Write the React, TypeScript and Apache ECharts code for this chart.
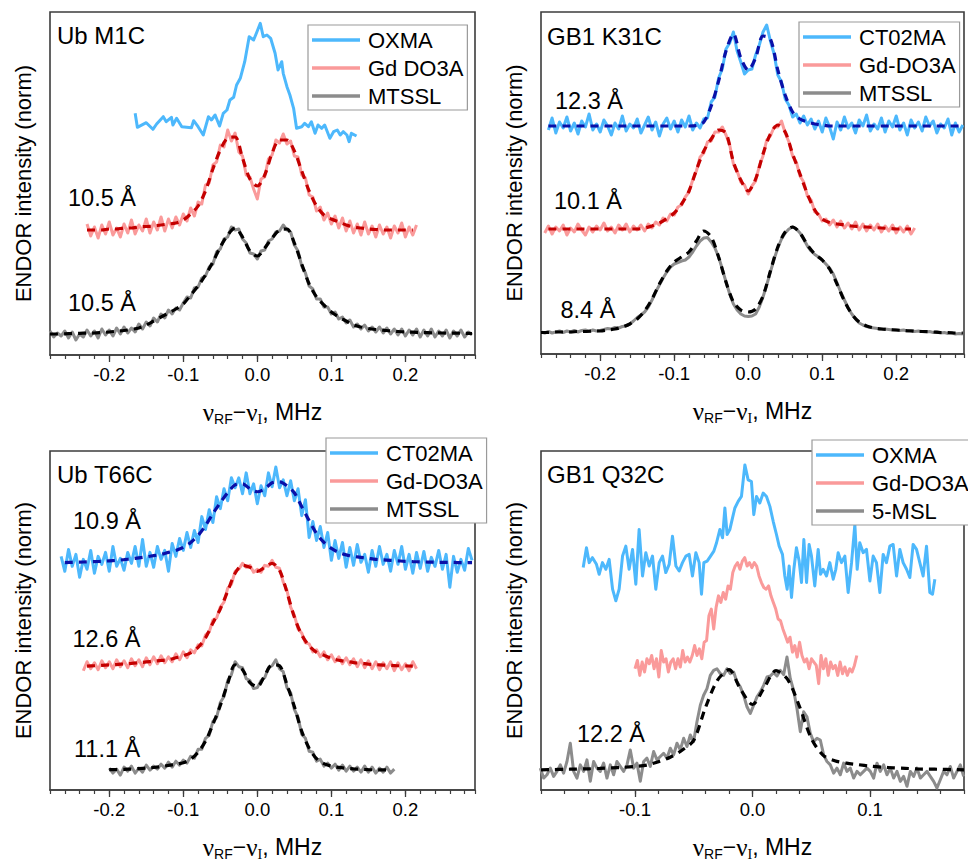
import React, { useEffect, useRef } from 'react';
import * as echarts from 'echarts';

// ---------------- Data (x in MHz, y = intensity in arbitrary units) ----------------
// Panel "Ub M1C"
const ubM1C_OXMA: [number, number][] = [[-0.165,241.7],[-0.162,227.7],[-0.150,232.3],[-0.141,225.7],[-0.136,231],[-0.127,238.3],[-0.123,233.3],[-0.116,237.7],[-0.114,230],[-0.109,236.7],[-0.102,228.3],[-0.089,227.3],[-0.086,234.3],[-0.080,228.3],[-0.073,220],[-0.066,238.3],[-0.062,235],[-0.057,240],[-0.051,229],[-0.046,241.7],[-0.041,245],[-0.037,255],[-0.032,257.7],[-0.028,270],[-0.023,276.7],[-0.017,293.3],[-0.011,318.3],[-0.005,315],[-0.001,322.3],[0.004,331.7],[0.008,318.3],[0.013,320],[0.018,316.7],[0.024,301.7],[0.028,285],[0.033,293.3],[0.035,281.7],[0.040,268.3],[0.044,260],[0.049,246.7],[0.053,226.7],[0.060,228.3],[0.064,231.7],[0.069,228.3],[0.073,233.3],[0.078,221.7],[0.082,230],[0.087,226.7],[0.091,230],[0.098,216.7],[0.103,223.3],[0.108,225],[0.112,220],[0.116,223.3],[0.121,220],[0.124,213.3],[0.127,221.7],[0.134,219]];
const ubM1C_GD_start = -0.23, ubM1C_GD_step = 0.005;
const ubM1C_GD = [131,119,128,117,130,121,133,120,127,118,131,122,135,121,130,124,136,122,133,125,138,124,136,127,138,130,141,134,147,139,153,151,170,172,190,193,210,208,225,214,222,203,199,180,178,166,156,176,178,196,200,215,212,221,211,214,199,198,180,177,160,158,144,148,135,142,131,139,127,137,124,134,122,131,120,133,121,129,118,130,121,128,117,129,122,132,118,128,120,130];
const ubM1C_GDfit_start = -0.23, ubM1C_GDfit_step = 0.01;
const ubM1C_GDfit = [125,125,125,126,126,127,127,128,128.5,129,130,131,132,135,141,149,164,186,205,217,218,197,176,169,180,202,215,215,204,184,164,149,140,136,133,130,128,127,126,125.5,125,125,125,125,125];
const ubM1C_MT_start = -0.28, ubM1C_MT_step = 0.005;
const ubM1C_MT = [24,18,22,19,24,17,23,15,21,18,25,19,24,17,26,20,25,19,27,21,28,22,27,23,31,26,33,29,37,33,41,37,45,41,47,45,52,58,57,67,68,77,79,88,91,103,106,116,118,128,125,126,116,112,102,101,96,104,105,114,116,123,124,130,125,123,110,104,89,82,69,66,56,56,48,48,41,43,36,38,32,35,28,31,26,30,24,28,23,28,22,27,21,26,20,26,19,25,20,26,18,25,19,26,18,24,19,25,17,24,19,25,18,23,20];
const ubM1C_MTfit_start = -0.28, ubM1C_MTfit_step = 0.01;
const ubM1C_MTfit = [21,21,21.2,21.5,21.7,21.9,22,22.5,23,23.8,24.5,25.6,27,30,34,38,42,46,51,60,69,80,93,108,120,127,118,104,99,107,117,125,126,112,91,71,58,50,43,38,34,30,28,26.5,25.5,24.8,24,23.5,23,22.8,22.5,22.3,22.1,22,21.9,21.8,21.6,21.5];

// Panel "GB1 K31C"
const gbK31C_CT_start = -0.27, gbK31C_CT_step = 0.005;
const gbK31C_CT = [224,236,221,232,226,237,223,231,220,233,227,240,224,230,222,234,228,219,231,225,238,223,230,226,235,221,229,237,224,232,218,230,236,225,233,222,234,227,238,224,231,226,235,236,252,257,276,285,305,311,322,303,292,280,284,285,299,309,322,329,313,300,279,272,255,249,237,240,231,238,229,235,225,233,222,236,227,215,232,224,237,226,231,221,234,228,239,223,230,225,236,222,233,227,238,224,231,219,234,226,232,223,237,228,233,221,230,226,235,219,231,222,229];
const gbK31C_CTfit_start = -0.27, gbK31C_CTfit_step = 0.01;
const gbK31C_CTfit = [228,228,228,228,228,228,228,228,228,228,228,228,228,228,228,228,228,228,228,228,228.5,232,248,273,303,320,296,284,296,318,315,284,259,242,235,232,230,229,228,228,228,228,228,228,228,228,228,228,228,228,228,228,228,228,228,228,228];
const gbK31C_GD_start = -0.275, gbK31C_GD_step = 0.005;
const gbK31C_GD = [121,128,120,127,123,129,119,126,122,130,124,119,127,122,128,124,131,123,127,121,129,124,130,122,128,124,129,123,130,126,132,129,136,133,140,139,147,149,157,162,174,183,197,201,212,213,222,222,227,219,209,190,183,172,169,160,168,173,188,198,214,218,227,227,233,221,212,198,192,178,172,158,154,142,140,133,135,129,134,127,133,126,131,125,132,124,130,123,129,124,130,122,128,123,129,121,127,122,128,120,126];
const gbK31C_GDfit_start = -0.27, gbK31C_GDfit_step = 0.01;
const gbK31C_GDfit = [125,125,125,125,125,125,125,125,125,125,125,125,125,126,128,131,135.5,141,150,163,184,203,215,224,221,192,174,163,175,200,220,229,222,200,180,160,144,135,131.5,130,129,128,127.5,127,126.5,126,125.5,125,125,125];
const gbK31C_MT_start = -0.28, gbK31C_MT_step = 0.005;
const gbK31C_MT = [22,21,22.5,21,22,23,21.5,23,22,23.5,22,23.5,24,22.5,24,23,23.5,24.5,25.5,25,26.5,26,27.5,28,30,33,36.5,39,42,47,54,62,69,76,82,87,90,91.5,93,94,97,102,108,113,116,116.5,112,106,97,85,72,60,50,44,40,38,37.5,38,40,47,57,69,82,95,106,115,121,125,127,125,121,115,108,103,99.5,97,94,90,86,80,71,62,54,46,40,35,31,29,27.5,26.5,26,25.5,25,25,24.5,24,24,23.5,24,23,23.5,22.5,23,22.5,22,22.5,21.5,22,21,21.5,20.5,21,20,20.5,20];
const gbK31C_MTfit_start = -0.28, gbK31C_MTfit_step = 0.01;
const gbK31C_MTfit = [21.5,21.5,22,22,22,22.5,22.5,23,23,24,25,27,30,35,43,55,70,83,92,97,102,113,123,117,97,72,52,44,42,45,58,83,107,122,127,121,109,100,94,85,70,53,40,32,28,26,25,24.5,24,23.5,23,22.5,22.5,22,21.5,21.5,21,21];

// Panel "Ub T66C"
const ubT66C_CT_start = -0.265, ubT66C_CT_step = 0.005;
const ubT66C_CT = [235,220,242,225,237,214,232,222,241,218,235,227,239,220,245,225,233,221,239,228,245,225,252,225,239,224,245,232,241,220,248,235,253,241,259,244,261,249,275,262,282,269,295,283,303,291,314,304,314,298,319,298,308,288,306,296,319,305,325,304,312,296,311,291,303,276,292,254,270,251,265,244,259,231,251,233,249,224,244,226,247,229,237,219,241,225,245,227,237,220,241,227,245,222,237,218,239,223,240,220,234,225,241,222,237,204,235,219,232,221,243,231];
const ubT66C_CTfit_start = -0.26, ubT66C_CTfit_step = 0.01;
const ubT66C_CTfit = [228.8,229,229.2,229.5,229.7,230,230.5,231,231.7,232.5,233.5,234.5,235.7,237,239,241,244,249,256,266,278,289,299,307,308,303,300,303,309,310,306,299,285,271,258,249,243,239,236.5,235,234,233,232,231.5,231,230.5,230,229.7,229.5,229.3,229.2,229,229,228.8,228.7,228.7];
const ubT66C_GD_start = -0.235, ubT66C_GD_step = 0.005;
const ubT66C_GD = [120,129,122,128,121,130,123,129,122,131,124,130,123,132,125,131,124,133,126,134,127,135,128,134,129,137,131,139,133,141,138,146,145,156,159,171,173,184,189,203,207,220,222,228,224,226,219,222,219,226,225,231,224,223,209,201,184,176,162,158,148,147,139,141,134,139,131,136,129,134,127,133,126,132,124,131,123,130,122,129,121,128,122,129,120,128,121,127,120,129,122];
const ubT66C_GDfit_start = -0.23, ubT66C_GDfit_step = 0.01;
const ubT66C_GDfit = [124.7,125,125.4,125.8,126.2,126.8,127.3,128,128.8,129.6,130.3,131,133,135,138,143.5,153,168,182,200,218,226,224,220,224,228,221,199,174,156,145,138.5,135.5,132.5,130.5,129.3,128.2,127.4,126.7,126.1,125.7,125.3,125,124.8,124.6];
const ubT66C_MT_start = -0.2, ubT66C_MT_step = 0.005;
const ubT66C_MT = [22,17,21,15,23,19,24,17,22,18,25,20,24,21,26,22,28,23,29,25,30,27,34,32,41,41,52,55,69,73,88,94,110,116,129,124,123,112,110,102,103,110,113,123,125,131,122,119,103,98,81,73,56,52,39,38,29,31,24,27,22,26,20,25,19,24,19,23,18,24,18,23,17,22,18,23,17,21];
const ubT66C_MTfit_start = -0.2, ubT66C_MTfit_step = 0.01;
const ubT66C_MTfit = [20.5,20.6,20.8,21.1,21.5,22,22.6,23.5,24.7,26,27.5,31,38,49,66,85,107,126,121,108,104,115,126,125,106,84,59,42,31.5,26.5,24,22.7,21.8,21.2,20.8,20.5,20.3,20.2,20.2];

// Panel "GB1 Q32C"
const gbQ32C_OXMA: [number, number][] = [[-0.1441,223.7],[-0.1413,243.7],[-0.1390,228.7],[-0.1362,233.7],[-0.1328,227],[-0.1305,217],[-0.1277,228.7],[-0.1248,222],[-0.1220,232],[-0.1191,202],[-0.1163,190.3],[-0.1135,202],[-0.1106,235.3],[-0.1078,245.3],[-0.1050,222],[-0.1021,242],[-0.0993,207],[-0.0965,262],[-0.0936,215.3],[-0.0908,238.7],[-0.0879,225.3],[-0.0851,235.3],[-0.0823,202],[-0.0794,228.7],[-0.0766,235.3],[-0.0738,218.7],[-0.0709,227],[-0.0681,255.3],[-0.0652,225.3],[-0.0624,220.3],[-0.0596,228.7],[-0.0567,235.3],[-0.0539,237],[-0.0511,215.3],[-0.0482,238.7],[-0.0454,228.7],[-0.0434,197],[-0.0414,228.7],[-0.0386,230.3],[-0.0357,235.3],[-0.0329,240.3],[-0.0306,248.7],[-0.0278,262],[-0.0255,253.7],[-0.0235,283.7],[-0.0216,257],[-0.0193,262],[-0.0170,273.7],[-0.0150,283.7],[-0.0122,290.3],[-0.0094,295.3],[-0.0065,327],[-0.0037,312],[-0.0009,310.3],[0.0011,277],[0.0034,295.3],[0.0062,288.7],[0.0091,298.7],[0.0119,295.3],[0.0148,285.3],[0.0176,270.3],[0.0204,257],[0.0227,245.3],[0.0255,237],[0.0275,215.3],[0.0295,202],[0.0312,225.3],[0.0332,193.7],[0.0352,222],[0.0374,243.7],[0.0397,230.3],[0.0417,208.7],[0.0437,252],[0.0460,208.7],[0.0482,247],[0.0502,235.3],[0.0530,205.3],[0.0559,242],[0.0579,217],[0.0601,222],[0.0630,215.3],[0.0658,228.7],[0.0687,212],[0.0709,222],[0.0729,238.7],[0.0757,228.7],[0.0786,235.3],[0.0814,198.7],[0.0843,228.7],[0.0871,267],[0.0891,222],[0.0913,248.7],[0.0942,238.7],[0.0970,242],[0.0999,210.3],[0.1027,235.3],[0.1055,228.7],[0.1084,198.7],[0.1112,237],[0.1140,228.7],[0.1169,245.3],[0.1197,247],[0.1226,215.3],[0.1254,242],[0.1282,228.7],[0.1311,222],[0.1339,213.7],[0.1367,247],[0.1396,242],[0.1424,228.7],[0.1452,215.3],[0.1481,245.3],[0.1509,198.7],[0.1532,197],[0.1552,212]];
const gbQ32C_GD_start = -0.1, gbQ32C_GD_step = 0.00203;
const gbQ32C_GD = [122,130.3,115.3,128.7,118.7,132,127,135.3,122,132,113.7,140.3,128.7,132,118.7,128.7,132,122,132,123.7,140.3,128.7,133.7,128.7,135.3,145.3,135.3,142,132,148.7,150.3,175.3,182,162,183.7,195.3,188.7,198.7,192,205.3,202,218.7,225.3,228.7,222,230.3,233.7,225.3,228.7,223.7,228.7,225.3,215.3,208.7,203.7,202,205.3,195.3,188.7,182,172,170.3,162,155.3,148.7,153.7,138.7,145.3,133.7,148.7,135.3,128.7,132,122,132,128.7,125.3,107,135.3,122,132,115.3,128.7,122,125.3,115.3,128.7,117,123.7,115.3,122,118.7,125.3,135.3];
const gbQ32C_MSL_start = -0.1806, gbQ32C_MSL_step = 0.002837;
const gbQ32C_MSL = [22,12,15.3,22,13.7,18.7,25.3,17,28.7,47,18.7,12,25.3,18.7,30.3,8.7,28.7,22,18.7,27,12,25.3,15.3,28.7,23.7,18.7,25.3,40.3,22,27,8.7,28.7,32,23.7,38.7,30.3,33.7,37,32,42,35.3,47,40.3,52,43.7,55.3,48.7,68.7,85.3,95.3,102,115.3,120.3,122,117,115.3,122,117,118.7,108.7,103.7,95.3,83.7,77,85.3,93.7,98.7,105.3,113.7,114.7,118,114.7,120.3,116,133.7,112,100.3,82,58.7,78.7,73.7,57,48.7,52,50.3,35.3,28.7,25.3,17,22,15.3,27,18.7,22,12,18.7,15.3,18.7,22,18.7,12,27,18.7,25.3,15.3,22,12,18.7,8.7,13.7,3.7,18.7,13.7,22,12,15.3,18.7,13.7,8.7,2,10.3,18.7,15.3,23.7,12,18.7,25.3,13.7];
const gbQ32C_MSLfit_start = -0.18, gbQ32C_MSLfit_step = 0.01;
const gbQ32C_MSLfit = [20.3,20.5,20.8,21,21.3,21.7,22.2,22.8,23.6,25,28.5,33,40,50,83,110,121,101,86,103,120,111,84,52,35,29.5,27,25.5,24,23,22.3,21.8,21.2,21,20.8,20.5,20.3];

const xTicksWide = [-0.2, -0.1, 0, 0.1, 0.2];
const xTicksNarrow = [-0.1, 0, 0.1];

// ---------------- Styling ----------------
const SANS = '"Liberation Sans", Arial, Helvetica, sans-serif';
const SERIF = '"Liberation Serif", "Times New Roman", serif';
const BLUE = '#4DB8FC';
const PINK = '#FA9A9A';
const GRAY = '#8C8C8C';
const NAVY = '#0A10A8';
const DARKRED = '#C40000';
const BLACK = '#000000';
const FRAME = '#3c3c3c';

const onGrid = (x0: number, dx: number, ys: number[]) =>
  ys.map((y, i) => [Math.round((x0 + i * dx) * 1e5) / 1e5, y]);

const panels = [
  { grid: { left: 50, top: 12, width: 425, height: 343 }, min: -0.28, max: 0.294, ticks: xTicksWide },
  { grid: { left: 541, top: 12, width: 423, height: 342 }, min: -0.28, max: 0.2916, ticks: xTicksWide },
  { grid: { left: 50, top: 451, width: 425, height: 341 }, min: -0.28, max: 0.294, ticks: xTicksWide },
  { grid: { left: 541, top: 451, width: 423, height: 341 }, min: -0.18, max: 0.18, ticks: xTicksNarrow },
];

function dataLine(name: string, data: number[][], color: string, p: number) {
  return {
    type: 'line', name, data, xAxisIndex: p, yAxisIndex: p,
    symbol: 'none', showSymbol: false, silent: true, z: 2,
    lineStyle: { color, width: 3, join: 'round' }, itemStyle: { color },
  };
}
function fitLine(name: string, data: number[][], color: string, p: number) {
  return {
    type: 'line', name, data, xAxisIndex: p, yAxisIndex: p,
    symbol: 'none', showSymbol: false, silent: true, z: 3, smooth: 0.3,
    lineStyle: { color, width: 3.2, type: [8, 6] }, itemStyle: { color },
  };
}

function legendAt(left: number, top: number, names: string[]) {
  return {
    orient: 'vertical', left, top, data: names, selectedMode: false,
    icon: 'rect',
    padding: [4, 4, 3, 4], itemGap: 6, itemWidth: 48, itemHeight: 3.5,
    backgroundColor: '#ffffff', borderColor: '#9a9a9a', borderWidth: 1.2,
    textStyle: { fontSize: 22, fontFamily: SANS, color: '#000', padding: [0, 0, 0, 3] },
    z: 20,
  };
}

function textEl(t: string, x: number, y: number, size: number) {
  return {
    type: 'text', x, y, z: 30,
    style: { text: t, font: `${size}px ${SANS}`, fill: '#000', verticalAlign: 'middle', align: 'left' },
  };
}

const xName = '{n|ν}{s|RF}{m|−}{n|ν}{i|I}{m|, MHz}';
const xNameRich = {
  n: { fontFamily: SERIF, fontSize: 25, lineHeight: 28, color: '#000' },
  m: { fontFamily: SANS, fontSize: 23, lineHeight: 28, color: '#000' },
  s: { fontFamily: SANS, fontSize: 14, lineHeight: 14, verticalAlign: 'bottom', color: '#000' },
  i: { fontFamily: SERIF, fontSize: 14, lineHeight: 14, verticalAlign: 'bottom', color: '#000' },
};

export default function App() {
  const ref = useRef<HTMLDivElement>(null);
  useEffect(() => {
    if (!ref.current) return;
    const chart = echarts.init(ref.current, undefined, { renderer: 'svg' });

    const grids = panels.map((p) => ({
      ...p.grid, show: true, borderColor: FRAME, borderWidth: 1.6, backgroundColor: 'transparent', containLabel: false,
    }));
    const mainX = panels.map((p, i) => ({
      type: 'value', gridIndex: i, position: 'bottom', min: p.min, max: p.max,
      axisLine: { show: true, lineStyle: { color: FRAME, width: 1.6 } },
      axisTick: { show: true, length: 7, customValues: p.ticks, lineStyle: { color: FRAME, width: 1.3 } },
      axisLabel: {
        show: true, customValues: p.ticks, margin: 10, fontSize: 18.5, fontFamily: SANS, color: '#000',
        formatter: (v: number) => v.toFixed(1),
      },
      splitLine: { show: false },
      name: xName, nameLocation: 'middle', nameGap: 43,
      nameTextStyle: { rich: xNameRich },
    }));
    const minorX = panels.map((p, i) => ({
      type: 'value', gridIndex: i, position: 'bottom', min: p.min, max: p.max, interval: 0.02,
      axisLine: { show: false },
      axisTick: { show: true, length: 4, lineStyle: { color: FRAME, width: 1.2 } },
      axisLabel: { show: false }, splitLine: { show: false },
    }));
    const yAxes = panels.map((p, i) => ({
      type: 'value', gridIndex: i, min: 0, max: p.grid.height,
      axisLine: { show: false }, axisTick: { show: false }, axisLabel: { show: false }, splitLine: { show: false },
      name: 'ENDOR intensity (norm)', nameLocation: 'middle', nameGap: 16,
      nameTextStyle: { fontSize: 22, fontFamily: SANS, color: '#000' },
    }));

    const series = [
      // Ub M1C
      dataLine('OXMA', ubM1C_OXMA, BLUE, 0),
      dataLine('Gd DO3A', onGrid(ubM1C_GD_start, ubM1C_GD_step, ubM1C_GD), PINK, 0),
      dataLine('MTSSL', onGrid(ubM1C_MT_start, ubM1C_MT_step, ubM1C_MT), GRAY, 0),
      fitLine('fit Gd DO3A (Ub M1C)', onGrid(ubM1C_GDfit_start, ubM1C_GDfit_step, ubM1C_GDfit), DARKRED, 0),
      fitLine('fit MTSSL (Ub M1C)', onGrid(ubM1C_MTfit_start, ubM1C_MTfit_step, ubM1C_MTfit), BLACK, 0),
      // GB1 K31C
      dataLine('CT02MA', onGrid(gbK31C_CT_start, gbK31C_CT_step, gbK31C_CT), BLUE, 1),
      dataLine('Gd-DO3A', onGrid(gbK31C_GD_start, gbK31C_GD_step, gbK31C_GD), PINK, 1),
      dataLine('MTSSL', onGrid(gbK31C_MT_start, gbK31C_MT_step, gbK31C_MT), GRAY, 1),
      fitLine('fit CT02MA (GB1 K31C)', onGrid(gbK31C_CTfit_start, gbK31C_CTfit_step, gbK31C_CTfit), NAVY, 1),
      fitLine('fit Gd-DO3A (GB1 K31C)', onGrid(gbK31C_GDfit_start, gbK31C_GDfit_step, gbK31C_GDfit), DARKRED, 1),
      fitLine('fit MTSSL (GB1 K31C)', onGrid(gbK31C_MTfit_start, gbK31C_MTfit_step, gbK31C_MTfit), BLACK, 1),
      // Ub T66C
      dataLine('CT02MA', onGrid(ubT66C_CT_start, ubT66C_CT_step, ubT66C_CT), BLUE, 2),
      dataLine('Gd-DO3A', onGrid(ubT66C_GD_start, ubT66C_GD_step, ubT66C_GD), PINK, 2),
      dataLine('MTSSL', onGrid(ubT66C_MT_start, ubT66C_MT_step, ubT66C_MT), GRAY, 2),
      fitLine('fit CT02MA (Ub T66C)', onGrid(ubT66C_CTfit_start, ubT66C_CTfit_step, ubT66C_CTfit), NAVY, 2),
      fitLine('fit Gd-DO3A (Ub T66C)', onGrid(ubT66C_GDfit_start, ubT66C_GDfit_step, ubT66C_GDfit), DARKRED, 2),
      fitLine('fit MTSSL (Ub T66C)', onGrid(ubT66C_MTfit_start, ubT66C_MTfit_step, ubT66C_MTfit), BLACK, 2),
      // GB1 Q32C
      dataLine('OXMA', gbQ32C_OXMA, BLUE, 3),
      dataLine('Gd-DO3A', onGrid(gbQ32C_GD_start, gbQ32C_GD_step, gbQ32C_GD), PINK, 3),
      dataLine('5-MSL', onGrid(gbQ32C_MSL_start, gbQ32C_MSL_step, gbQ32C_MSL), GRAY, 3),
      fitLine('fit 5-MSL (GB1 Q32C)', onGrid(gbQ32C_MSLfit_start, gbQ32C_MSLfit_step, gbQ32C_MSLfit), BLACK, 3),
    ];

    chart.setOption({
      animation: false,
      backgroundColor: '#ffffff',
      grid: grids,
      xAxis: [...mainX, ...minorX],
      yAxis: yAxes,
      legend: [
        legendAt(308, 25, ['OXMA', 'Gd DO3A', 'MTSSL']),
        legendAt(799, 22, ['CT02MA', 'Gd-DO3A', 'MTSSL']),
        legendAt(326, 438, ['CT02MA', 'Gd-DO3A', 'MTSSL']),
        legendAt(812, 440, ['OXMA', 'Gd-DO3A', '5-MSL']),
      ],
      graphic: [
        textEl('Ub M1C', 57, 35.5, 24),
        textEl('10.5 Å', 68, 197.5, 23.5),
        textEl('10.5 Å', 68, 303, 23.5),
        textEl('GB1 K31C', 547, 36.2, 24),
        textEl('12.3 Å', 555, 101.2, 23.5),
        textEl('10.1 Å', 554, 201.2, 23.5),
        textEl('8.4 Å', 560.5, 309.5, 23.5),
        textEl('Ub T66C', 57, 474.2, 24),
        textEl('10.9 Å', 73, 520.8, 23.5),
        textEl('12.6 Å', 72.5, 639.2, 23.5),
        textEl('11.1 Å', 74, 749.2, 23.5),
        textEl('GB1 Q32C', 547, 474.2, 24),
        textEl('12.2 Å', 577, 734.2, 23.5),
      ],
      series,
    });
    return () => chart.dispose();
  }, []);

  return (
    <div
      ref={ref}
      style={{ position: 'absolute', left: 0, top: 0, width: 968, height: 862, background: '#fff' }}
    />
  );
}
